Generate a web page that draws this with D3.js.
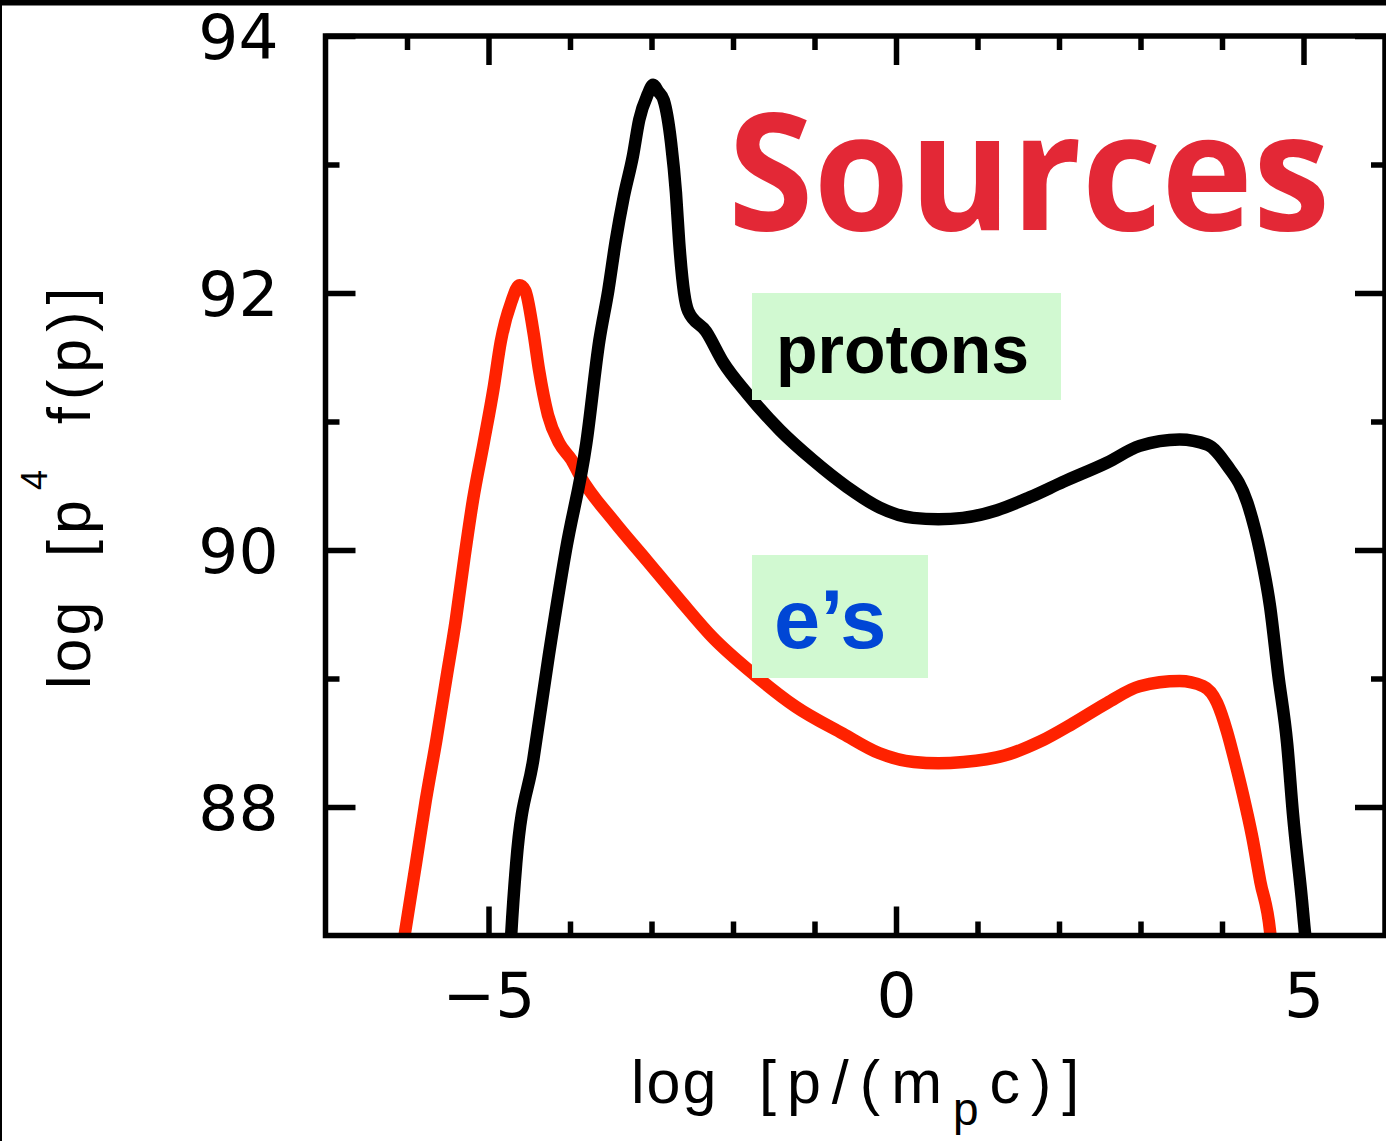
<!DOCTYPE html>
<html>
<head>
<meta charset="utf-8">
<script src="https://cdn.jsdelivr.net/npm/d3@7"></script>
<style>
  html, body { margin: 0; padding: 0; background: #fff; }
  svg { display: block; }
</style>
</head>
<body>
<script>
// ---- data ----
const protonX = [-4.73, -4.72, -4.66, -4.45, -4.26, -4.05, -3.80, -3.64, -3.53, -3.44, -3.34, -3.23, -3.15, -3.05, -2.98,
  -2.92, -2.85, -2.76, -2.70, -2.66, -2.60, -2.55, -2.33, -2.12, -1.83, -1.42, -1.02, -0.60, -0.20, 0.21, 0.52, 0.82,
  1.24, 1.64, 2.05, 2.59, 2.99, 3.48, 3.82, 4.06, 4.31, 4.47, 4.59, 4.69, 4.80, 4.87, 4.98, 5.02, 5.04];
const protonY = [86.9, 87.02, 87.56, 88.37, 89.18, 90.00, 90.83, 91.63, 92.02, 92.40, 92.75, 93.06, 93.35, 93.54, 93.62,
  93.57, 93.50, 93.17, 92.78, 92.39, 92.00, 91.86, 91.70, 91.46, 91.22, 90.93, 90.70, 90.49, 90.33, 90.25, 90.24, 90.25,
  90.31, 90.41, 90.53, 90.68, 90.81, 90.86, 90.82, 90.66, 90.37, 89.98, 89.56, 89.03, 88.49, 87.95, 87.28, 87.01, 86.9];

const electronX = [-6.055, -5.89, -5.77, -5.64, -5.52, -5.40, -5.30, -5.19, -5.06, -4.94, -4.85, -4.72, -4.62,
  -4.55, -4.45, -4.38, -4.27, -4.13, -3.98, -3.88, -3.47, -3.06, -2.65, -2.25, -1.74, -1.23, -0.65, -0.21, 0.22, 0.52, 0.83,
  1.33, 1.77, 2.17, 2.59, 2.99, 3.48, 3.77, 3.94, 4.06, 4.16, 4.26, 4.37, 4.47, 4.59, 4.61];
const electronY = [86.9, 87.56, 88.05, 88.52, 88.99, 89.46, 89.92, 90.39, 90.83, 91.25, 91.62, 91.93, 92.06,
  92.02, 91.70, 91.40, 91.05, 90.83, 90.70, 90.58, 90.23, 89.92, 89.61, 89.32, 89.03, 88.78, 88.57, 88.42, 88.35, 88.34, 88.35,
  88.40, 88.51, 88.65, 88.81, 88.94, 88.98, 88.94, 88.81, 88.59, 88.35, 88.09, 87.77, 87.42, 87.03, 86.9];

const xMajorTicks = [-5, 0, 5];
const xMinorTicks = [-6, -4, -3, -2, -1, 1, 2, 3, 4];
const yMajorTicks = [88, 90, 92, 94];
const yMinorTicks = [89, 91, 93];
const xDomain = [-7, 6];
const yDomain = [87, 94];

const titleText = "Sources";
const protonLabel = "protons";
const electronLabel = "e\u2019s";

// ---- layout ----
const W = 1386, H = 1141;
const L = 325.5, R = 1385, T = 36, B = 935.5;

const svg = d3.select("body").append("svg").attr("width", W).attr("height", H);
svg.append("rect").attr("width", W).attr("height", H).attr("fill", "#fff");
svg.append("rect").attr("x", 0).attr("y", 0).attr("width", W).attr("height", 5.5).attr("fill", "#000");
svg.append("rect").attr("x", 0).attr("y", 0).attr("width", 2).attr("height", H).attr("fill", "#000");

const x = d3.scaleLinear().domain(xDomain).range([L, R]);
const y = d3.scaleLinear().domain(yDomain).range([B, T]);

const fontAxis = "'Liberation Sans', Arial, Helvetica, sans-serif";
const fontTick = "'DejaVu Sans', sans-serif";
const tickW = 5.5;
const intFmt = d3.format("d");

function styleAxis(g) {
  g.select(".domain").remove();
  g.selectAll(".tick line").attr("stroke", "#000").attr("stroke-width", tickW);
  g.selectAll("text").attr("font-family", fontTick).attr("font-size", 63).attr("fill", "#000");
}

// bottom
svg.append("g").attr("transform", `translate(0,${B})`)
  .call(d3.axisBottom(x).tickValues(xMajorTicks).tickFormat(d => intFmt(d).replace("-", "\u2212"))
    .tickSizeInner(-29).tickSizeOuter(0).tickPadding(37))
  .call(styleAxis);
svg.append("g").attr("transform", `translate(0,${B})`)
  .call(d3.axisBottom(x).tickValues(xMinorTicks).tickSizeInner(-14).tickSizeOuter(0).tickFormat(""))
  .call(styleAxis);
// top
svg.append("g").attr("transform", `translate(0,${T})`)
  .call(d3.axisTop(x).tickValues(xMajorTicks).tickSizeInner(-29).tickSizeOuter(0).tickFormat(""))
  .call(styleAxis);
svg.append("g").attr("transform", `translate(0,${T})`)
  .call(d3.axisTop(x).tickValues(xMinorTicks).tickSizeInner(-14).tickSizeOuter(0).tickFormat(""))
  .call(styleAxis);
// left
svg.append("g").attr("transform", `translate(${L},0)`)
  .call(d3.axisLeft(y).tickValues(yMajorTicks).tickFormat(intFmt)
    .tickSizeInner(-30).tickSizeOuter(0).tickPadding(47))
  .call(styleAxis)
  .call(g => g.selectAll("text").attr("dy", "0.36em"));
svg.append("g").attr("transform", `translate(${L},0)`)
  .call(d3.axisLeft(y).tickValues(yMinorTicks).tickSizeInner(-14).tickSizeOuter(0).tickFormat(""))
  .call(styleAxis);
// right
svg.append("g").attr("transform", `translate(${R},0)`)
  .call(d3.axisRight(y).tickValues(yMajorTicks).tickSizeInner(-30).tickSizeOuter(0).tickFormat(""))
  .call(styleAxis);
svg.append("g").attr("transform", `translate(${R},0)`)
  .call(d3.axisRight(y).tickValues(yMinorTicks).tickSizeInner(-14).tickSizeOuter(0).tickFormat(""))
  .call(styleAxis);

// clip for curves
svg.append("clipPath").attr("id", "plotclip").append("rect")
  .attr("x", L).attr("y", T).attr("width", R - L).attr("height", B - T);

const line = d3.line().x(d => x(d[0])).y(d => y(d[1])).curve(d3.curveMonotoneX);

const curves = svg.append("g").attr("clip-path", "url(#plotclip)");
curves.append("path")
  .attr("d", line(electronX.map((v, i) => [v, electronY[i]])))
  .attr("fill", "none").attr("stroke", "#ff2200").attr("stroke-width", 12.5)
  .attr("stroke-linejoin", "round");
curves.append("path")
  .attr("d", line(protonX.map((v, i) => [v, protonY[i]])))
  .attr("fill", "none").attr("stroke", "#000").attr("stroke-width", 12.5)
  .attr("stroke-linejoin", "round");

// frame
svg.append("rect").attr("x", L).attr("y", T).attr("width", R - L).attr("height", B - T)
  .attr("fill", "none").attr("stroke", "#000").attr("stroke-width", 5.5);

// x axis title
const xt = svg.append("text")
  .attr("y", 1103)
  .attr("font-family", fontAxis).attr("font-size", 61).attr("fill", "#000");
xt.append("tspan").attr("x", 631).attr("letter-spacing", 2).text("log");
xt.append("tspan").attr("x", 759).attr("letter-spacing", 11).text("[p/(m");
xt.append("tspan").attr("font-size", 46).attr("dy", 22).attr("letter-spacing", 11).text("p");
xt.append("tspan").attr("dy", -22).attr("letter-spacing", 11).text("c)]");

// y axis title (rotated)
const yt = svg.append("text")
  .attr("transform", "translate(90,0) rotate(-90)")
  .attr("font-family", fontAxis).attr("font-size", 61).attr("fill", "#000");
yt.append("tspan").attr("x", -689).attr("letter-spacing", 3).text("log");
yt.append("tspan").attr("x", -557).attr("letter-spacing", 6).text("[p");
yt.append("tspan").attr("x", -490).attr("font-size", 36).attr("dy", -43).text("4");
yt.append("tspan").attr("x", -424).attr("dy", 43).attr("letter-spacing", 7).text("f(p)]");

// labels
svg.append("rect").attr("x", 752).attr("y", 293).attr("width", 309).attr("height", 107).attr("fill", "#d1f9d1");
svg.append("text").attr("x", 776).attr("y", 373)
  .attr("font-family", fontAxis).attr("font-weight", "bold").attr("font-size", 68).attr("fill", "#000")
  .text(protonLabel);

svg.append("rect").attr("x", 752).attr("y", 555).attr("width", 176).attr("height", 123).attr("fill", "#d1f9d1");
svg.append("text").attr("x", 774).attr("y", 648)
  .attr("font-family", fontAxis).attr("font-weight", "bold").attr("font-size", 83).attr("fill", "#0046d5")
  .text(electronLabel);

svg.append("text").attr("x", 728).attr("y", 230)
  .attr("font-family", "'Open Sans', sans-serif").attr("font-weight", "bold").attr("font-size", 164)
  .attr("fill", "#e32836")
  .attr("textLength", 602).attr("lengthAdjust", "spacingAndGlyphs")
  .text(titleText);
</script>
</body>
</html>
